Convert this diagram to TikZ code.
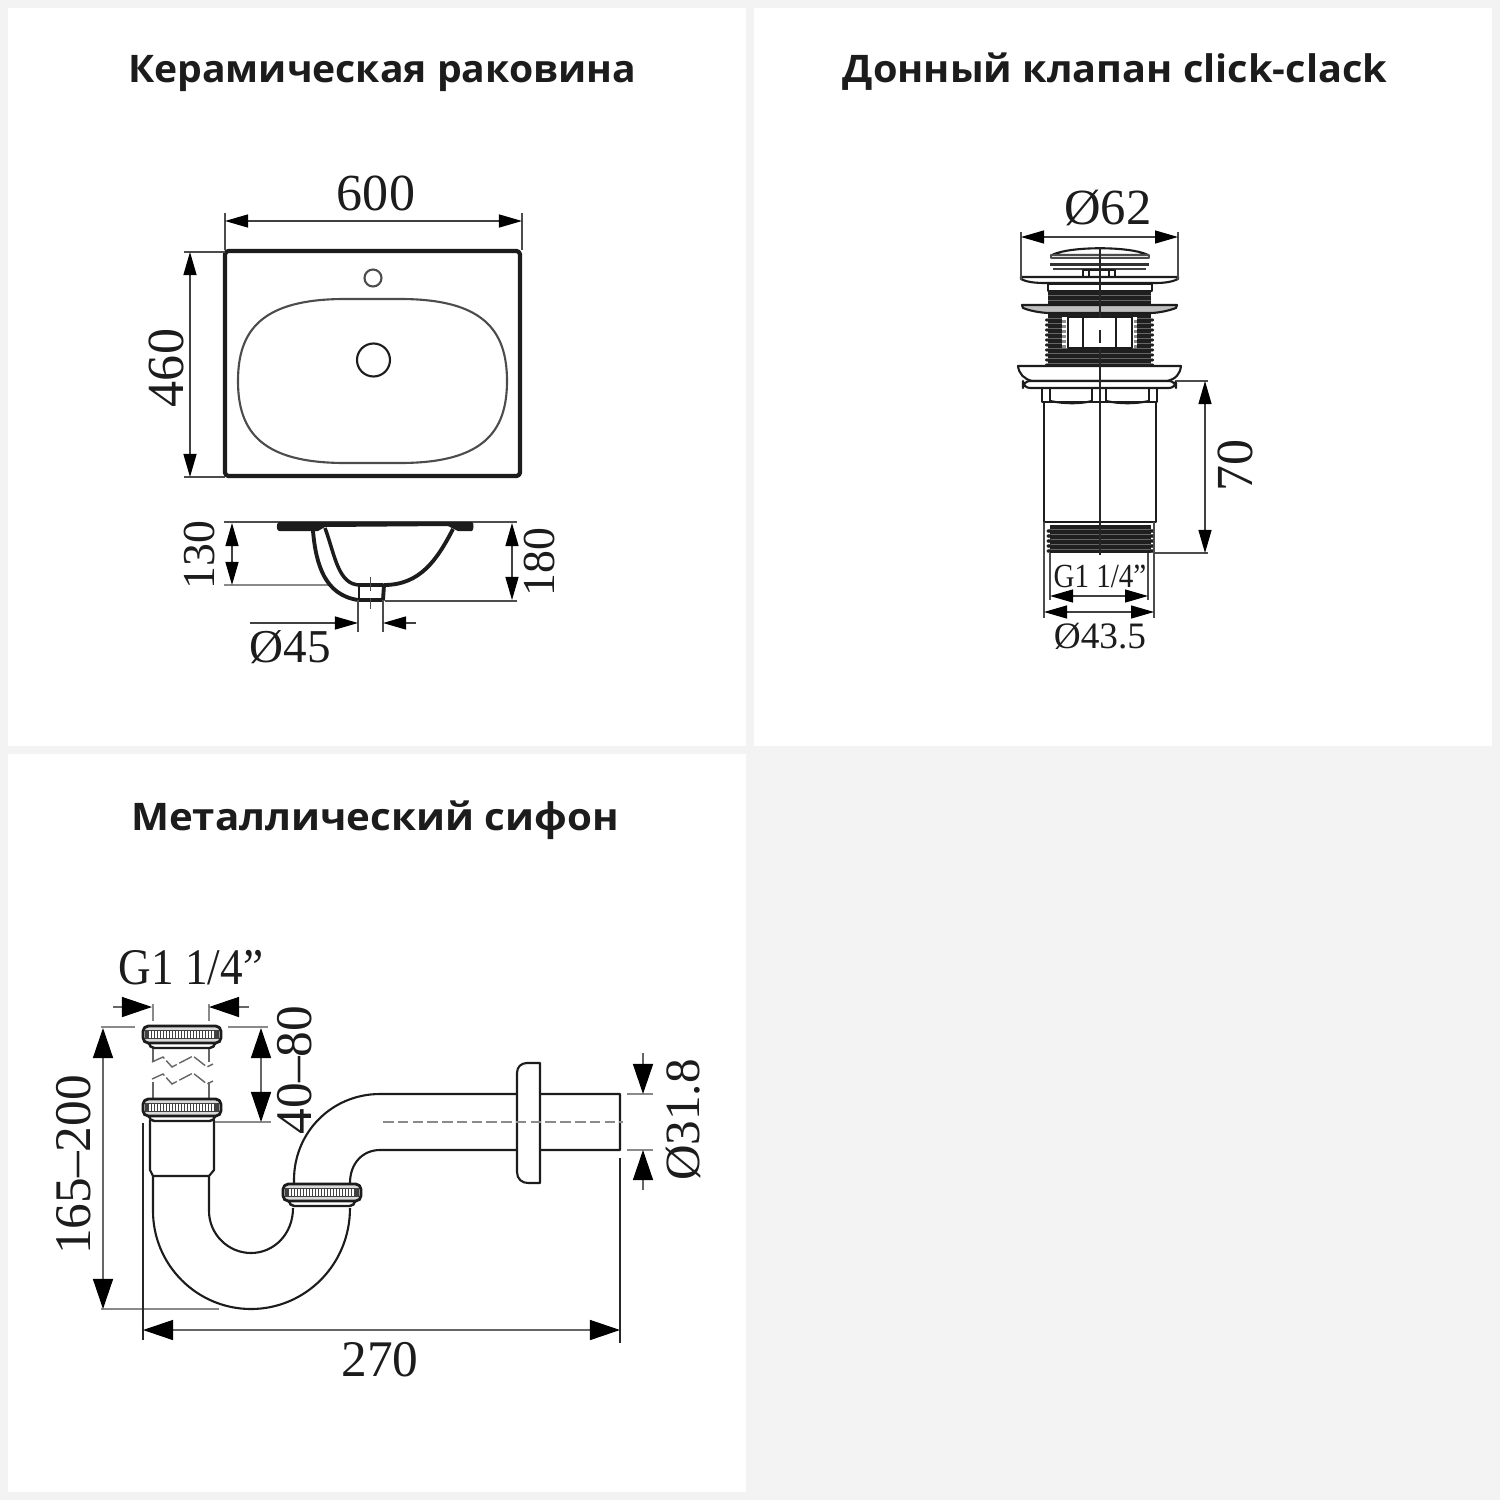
\documentclass[tikz,border=0pt]{standalone}
\usepackage{fontspec}
\setmainfont{Liberation Serif}
\setsansfont{Open Sans}
\usetikzlibrary{arrows.meta,positioning}
\definecolor{pagegray}{HTML}{F3F3F3}
\definecolor{inkdark}{HTML}{1C1C1C}
\definecolor{hairgray}{HTML}{8A8A8A}
\tikzset{
  paneltitle/.style={font=\sffamily\bfseries\fontsize{10.8pt}{12pt}\selectfont,text=inkdark,inner sep=0pt},
  dimtext/.style={font=\fontsize{14.8pt}{16pt}\selectfont,text=inkdark,inner sep=0pt},
  slimtext/.style={font=\fontsize{13pt}{15pt}\selectfont,text=inkdark,inner sep=0pt},
  bigtext/.style={font=\fontsize{14.6pt}{16pt}\selectfont,text=inkdark,inner sep=0pt},
  smalltext/.style={font=\fontsize{9.6pt}{11pt}\selectfont,text=inkdark,inner sep=0pt},
  dimline/.style={line width=0.35pt,draw=black!75,{Triangle[length=0.23cm,width=0.13cm,color=black,fill=black]}-{Triangle[length=0.23cm,width=0.13cm,color=black,fill=black]}},
  bigdim/.style={line width=0.4pt,draw=black!60,{Triangle[length=0.3cm,width=0.2cm,color=black,fill=black]}-{Triangle[length=0.3cm,width=0.2cm,color=black,fill=black]}},
  endtip/.style={line width=0.35pt,draw=black!75,-{Triangle[length=0.23cm,width=0.13cm,color=black,fill=black]}},
  bigtip/.style={line width=0.4pt,draw=black!60,-{Triangle[length=0.3cm,width=0.2cm,color=black,fill=black]}},
  extline/.style={line width=0.3pt,draw=black!70},
  grayline/.style={line width=0.4pt,draw=hairgray},
  part/.style={line width=0.6pt,draw=inkdark,line join=round},
  heavy/.style={line width=1.2pt,draw=inkdark,line join=round},
  threadbar/.style={fill=black!88,draw=none},
  knurlnut/.pic={
    \draw[part,line width=0.7pt,fill=white,rounded corners=1.5pt] (-33,13) rectangle (33,22);
    \draw[part,line width=0.8pt,fill=black!15,rounded corners=1.5pt] (-39,0) rectangle (39,17);
    \fill[black!75] (-37,4) rectangle (37,13);
    \foreach \kx in {-32,-29,...,32}
      \draw[white,line width=0.4pt] (\kx,5) -- (\kx,12);
  }
}
\begin{document}
\begin{tikzpicture}[x=0.01cm,y=-0.01cm]
  \useasboundingbox (0,0) rectangle (1500,1500);
  \fill[pagegray] (0,0) rectangle (1500,1500);
  \fill[white] (8,8) rectangle (746,746);
  \fill[white] (754,8) rectangle (1492,746);
  \fill[white] (8,754) rectangle (746,1492);

  \node[paneltitle,xscale=1.03] (sinktitle) at (382,74) {Керамическая раковина};
  \node[paneltitle,xscale=1.045] (valvetitle) at (1115,72) {Донный клапан click-clack};
  \node[paneltitle,xscale=1.06] (siphontitle) at (375,820) {Металлический сифон};

  % sink, top view
  \draw[heavy,rounded corners=1pt] (225,251) rectangle (520,476);
  \draw[part,draw=black!70] (238,381) .. controls (238,330) and (262,299) .. (345,299) -- (400,299)
    .. controls (483,299) and (507,330) .. (507,381) .. controls (507,432) and (483,463) .. (400,463)
    -- (345,463) .. controls (262,463) and (238,432) .. (238,381) -- cycle;
  \draw[part,draw=black!70] (373,278) circle[radius=8.5];
  \draw[part] (373.5,360) circle[radius=16.5];
  \coordinate (wl) at (225,221);
  \coordinate (wr) at (522,221);
  \coordinate (dt) at (190,252);
  \coordinate (db) at (190,477);
  \draw[extline] (225,213) -- (225,250);
  \draw[extline] (522,213) -- (522,250);
  \draw[extline] (184,252) -- (225,252);
  \draw[extline] (184,477) -- (225,477);
  \draw[dimline] (wl) -- (wr);
  \draw[dimline] (dt) -- (db);
  \node[dimtext] (sinkwidth) at (376,193) {600};
  \node[dimtext,rotate=90] (sinkdepth) at (166,368) {460};

  % sink, side view
  \draw[extline] (224,522) -- (517,522);
  \draw[grayline] (224,585) -- (330,585);
  \draw[extline] (385,601) -- (517,601);
  \fill[inkdark] (279,522) -- (472,522) .. controls (474,522) and (474,530) .. (472,531) -- (458,531) -- (448,526)
    -- (325,527) -- (318,531) -- (279,531) .. controls (276,530) and (276,523) .. (279,522) -- cycle;
  \draw[heavy,line width=1.1pt] (313,531) .. controls (316,565) and (325,595) .. (358,600) -- (383,600) -- (384,585)
    .. controls (420,585) and (437,560) .. (453,529);
  \draw[heavy,line width=1pt] (325,528) .. controls (335,555) and (338,585) .. (360,585) -- (383,585);
  \draw[part] (359,585) -- (359,600);
  \draw[extline] (358,600) -- (358,632);
  \draw[extline] (383,600) -- (383,632);
  \draw[extline] (370.5,577) -- (370.5,591);
  \draw[extline] (370.5,598) -- (370.5,609);
  \coordinate (rimtop) at (232,523);
  \coordinate (bowlbase) at (232,585);
  \coordinate (fulltop) at (512,523);
  \coordinate (fullbase) at (512,600);
  \coordinate (drainl) at (358,623);
  \coordinate (drainr) at (383,623);
  \coordinate (drainlfar) at (250,623);
  \coordinate (drainrfar) at (416,623);
  \draw[dimline] (rimtop) -- (bowlbase);
  \draw[dimline] (fulltop) -- (fullbase);
  \draw[endtip] (drainlfar) -- (drainl);
  \draw[endtip] (drainrfar) -- (drainr);
  \node[slimtext,rotate=90] (bowlheight) at (200,555) {130};
  \node[slimtext,rotate=90] (sinkheight) at (540,562) {180};
  \node[dimtext,font=\fontsize{13.4pt}{15pt}\selectfont] (drainsize) at (290,647) {Ø45};

  % click-clack valve
  \draw[part,fill=white] (1052,255) .. controls (1070,246) and (1130,246) .. (1148,255) -- cycle;
  \draw[part,draw=black!70] (1051,255) rectangle (1149,258);
  \fill[black!80] (1050,263) rectangle (1149,266);
  \fill[black!75] (1053,268) rectangle (1146,270);
  \draw[part] (1083,270) rectangle (1115,277);
  \draw[part] (1089,270) -- (1089,277) (1109,270) -- (1109,277);
  \draw[part,fill=white] (1021,277) -- (1178,277) -- (1178,279) .. controls (1170,283) and (1160,283) .. (1153,283)
    -- (1047,283) .. controls (1040,283) and (1028,283) .. (1021,279) -- cycle;
  \draw[part] (1048,284) rectangle (1152,291);
  \fill[threadbar] (1048,291) rectangle (1151,305);
  \foreach \ty in {295,300}
    \draw[black!60,line width=0.25pt] (1048,\ty) -- (1151,\ty);
  \fill[threadbar] (1048,313) rectangle (1151,366);
  \foreach \ty in {318,323,...,363} {
    \draw[black!60,line width=0.25pt] (1048,\ty) -- (1151,\ty);
    \fill[black!88] (1047,\ty+2) ellipse[x radius=2,y radius=1.6];
    \fill[black!88] (1152,\ty+2) ellipse[x radius=2,y radius=1.6];
  }
  \fill[white] (1062,317) rectangle (1137,348);
  \draw[part] (1068,317) rectangle (1132,348);
  \draw[part] (1083,317) -- (1083,348) (1116,317) -- (1116,348);
  \foreach \ty in {320,325,...,345} {
    \fill[black!45] (1062,\ty) rectangle (1066,\ty+3);
    \fill[black!45] (1134,\ty) rectangle (1137,\ty+3);
  }
  \draw[part,fill=black!25] (1022,305) -- (1177,305) -- (1176,308) .. controls (1165,312) and (1155,313) .. (1150,313)
    -- (1050,313) .. controls (1045,313) and (1033,312) .. (1023,308) -- cycle;
  \draw[part,fill=white] (1018,366) -- (1181,366) .. controls (1180,374) and (1176,379) .. (1167,381)
    -- (1032,381) .. controls (1024,379) and (1019,374) .. (1018,366) -- cycle;
  \draw[part,fill=white,rounded corners=2pt] (1023,381) rectangle (1176,388);
  \draw[part] (1042,388) -- (1042,402) -- (1157,402) -- (1157,388);
  \draw[part] (1050,388) -- (1050,402) (1092,388) -- (1092,402) (1106,388) -- (1106,402) (1149,388) -- (1149,402);
  \draw[part] (1050,401) .. controls (1065,404) and (1080,404) .. (1092,401);
  \draw[part] (1106,401) .. controls (1120,404) and (1135,404) .. (1149,401);
  \draw[part] (1044,402) -- (1044,522) -- (1156,522) -- (1156,402);
  \fill[threadbar] (1050,525) rectangle (1151,553);
  \foreach \ty in {529,534,...,549} {
    \draw[black!60,line width=0.25pt] (1050,\ty) -- (1151,\ty);
    \fill[black!88] (1049,\ty+2) ellipse[x radius=2.5,y radius=1.8];
    \fill[black!88] (1152,\ty+2) ellipse[x radius=2.5,y radius=1.8];
  }
  \draw[extline,draw=black!85] (1100,247) -- (1100,318);
  \draw[extline,draw=black!85] (1100,330) -- (1100,343);
  \draw[extline,draw=black!85] (1100,348) -- (1100,555);
  \coordinate (capl) at (1021,237);
  \coordinate (capr) at (1178,237);
  \coordinate (plate) at (1205,381);
  \coordinate (threadend) at (1205,553);
  \coordinate (gl) at (1050,596);
  \coordinate (gr) at (1148,596);
  \coordinate (bl) at (1044,612);
  \coordinate (br) at (1154,612);
  \draw[extline] (1021,232) -- (1021,280);
  \draw[extline] (1178,232) -- (1178,280);
  \draw[extline] (1176,381) -- (1208,381);
  \draw[extline] (1153,553) -- (1208,553);
  \draw[extline] (1050,553) -- (1050,600);
  \draw[extline] (1148,553) -- (1148,600);
  \draw[extline] (1044,522) -- (1044,618);
  \draw[extline] (1154,522) -- (1154,618);
  \draw[dimline] (capl) -- (capr);
  \draw[dimline] (plate) -- (threadend);
  \draw[dimline] (gl) -- (gr);
  \draw[dimline] (bl) -- (br);
  \node[dimtext,font=\fontsize{14.4pt}{16pt}\selectfont] (capsize) at (1108,208) {Ø62};
  \node[dimtext,rotate=90] (valveheight) at (1235,465) {70};
  \node[smalltext,xscale=0.86] (valvethread) at (1100,576) {G1 1/4”};
  \node[smalltext,font=\fontsize{10.6pt}{12pt}\selectfont] (valvesize) at (1100,636) {Ø43.5};

  % siphon
  \draw[part] (153,1176) -- (153,1211) .. controls (153,1265) and (197,1309) .. (251,1309)
    .. controls (305,1309) and (350,1265) .. (350,1208);
  \draw[part] (209,1176) -- (209,1211) .. controls (209,1234) and (228,1253) .. (251,1253)
    .. controls (274,1253) and (293,1234) .. (293,1208);
  \draw[part] (294,1183) -- (294,1180) .. controls (294,1132) and (332,1094) .. (380,1094) -- (620,1094) -- (620,1150)
    -- (380,1150) .. controls (363,1150) and (350,1163) .. (350,1183);
  \draw[part,fill=white] (540,1063) -- (527,1063) .. controls (521,1063) and (517,1067) .. (517,1073) -- (517,1172)
    .. controls (517,1179) and (522,1183) .. (528,1183) -- (540,1183) -- cycle;
  \draw[part] (150,1120) -- (150,1170) -- (153,1176) -- (209,1176) -- (214,1170) -- (214,1120);
  \draw[grayline,draw=black!60] (153,1045) -- (153,1062) (209,1045) -- (209,1062);
  \draw[grayline,draw=black!60] (153,1082) -- (153,1098) (209,1082) -- (209,1098);
  \foreach \zy in {0,17}
    \draw[grayline,draw=black!60,dash pattern=on 4pt off 0.8pt] (152,1062+\zy) -- (163,1057+\zy) -- (172,1067+\zy)
      -- (193,1056+\zy) -- (207,1067+\zy) -- (213,1064+\zy);
  \pic (topnut) at (182,1026) {knurlnut};
  \pic (midnut) at (182,1099) {knurlnut};
  \pic (sidenut) at (322,1184) {knurlnut};
  \draw[grayline,dash pattern=on 3pt off 1.2pt] (383,1122) -- (623,1122);
  \coordinate (gfl) at (152,1007);
  \coordinate (gfr) at (209,1007);
  \coordinate (gfarl) at (113,1007);
  \coordinate (gfarr) at (249,1007);
  \coordinate (fullt) at (103,1028);
  \coordinate (fullb) at (103,1309);
  \coordinate (adjt) at (261,1028);
  \coordinate (adjb) at (261,1122);
  \coordinate (spant) at (643,1094);
  \coordinate (spanb) at (643,1150);
  \coordinate (spantfar) at (643,1053);
  \coordinate (spanbfar) at (643,1190);
  \coordinate (reachl) at (143,1330);
  \coordinate (reachr) at (620,1330);
  \draw[grayline] (153,1004) -- (153,1021) (209,1004) -- (209,1021);
  \draw[grayline] (101,1027) -- (135,1027) (228,1027) -- (268,1027);
  \draw[grayline] (215,1122) -- (271,1122);
  \draw[grayline] (101,1309) -- (219,1309);
  \draw[grayline] (627,1094) -- (653,1094) (627,1150) -- (653,1150);
  \draw[extline,draw=black!85] (143,1123) -- (143,1340);
  \draw[extline,draw=black!85] (620,1158) -- (620,1343);
  \draw[bigtip] (gfarl) -- (gfl);
  \draw[bigtip] (gfarr) -- (gfr);
  \draw[bigdim] (fullt) -- (fullb);
  \draw[bigdim] (adjt) -- (adjb);
  \draw[bigtip] (spantfar) -- (spant);
  \draw[bigtip] (spanbfar) -- (spanb);
  \draw[bigdim] (reachl) -- (reachr);
  \node[bigtext,xscale=0.88] (siphonthread) at (191,968) {G1 1/4”};
  \node[bigtext,rotate=90] (siphonheight) at (74,1165) {165–200};
  \node[bigtext,rotate=90] (siphonadjust) at (295,1070) {40–80};
  \node[bigtext,rotate=90,font=\fontsize{14pt}{16pt}\selectfont] (siphonpipe) at (683,1120) {Ø31.8};
  \node[bigtext] (siphonreach) at (380,1360) {270};
\end{tikzpicture}
\end{document}
